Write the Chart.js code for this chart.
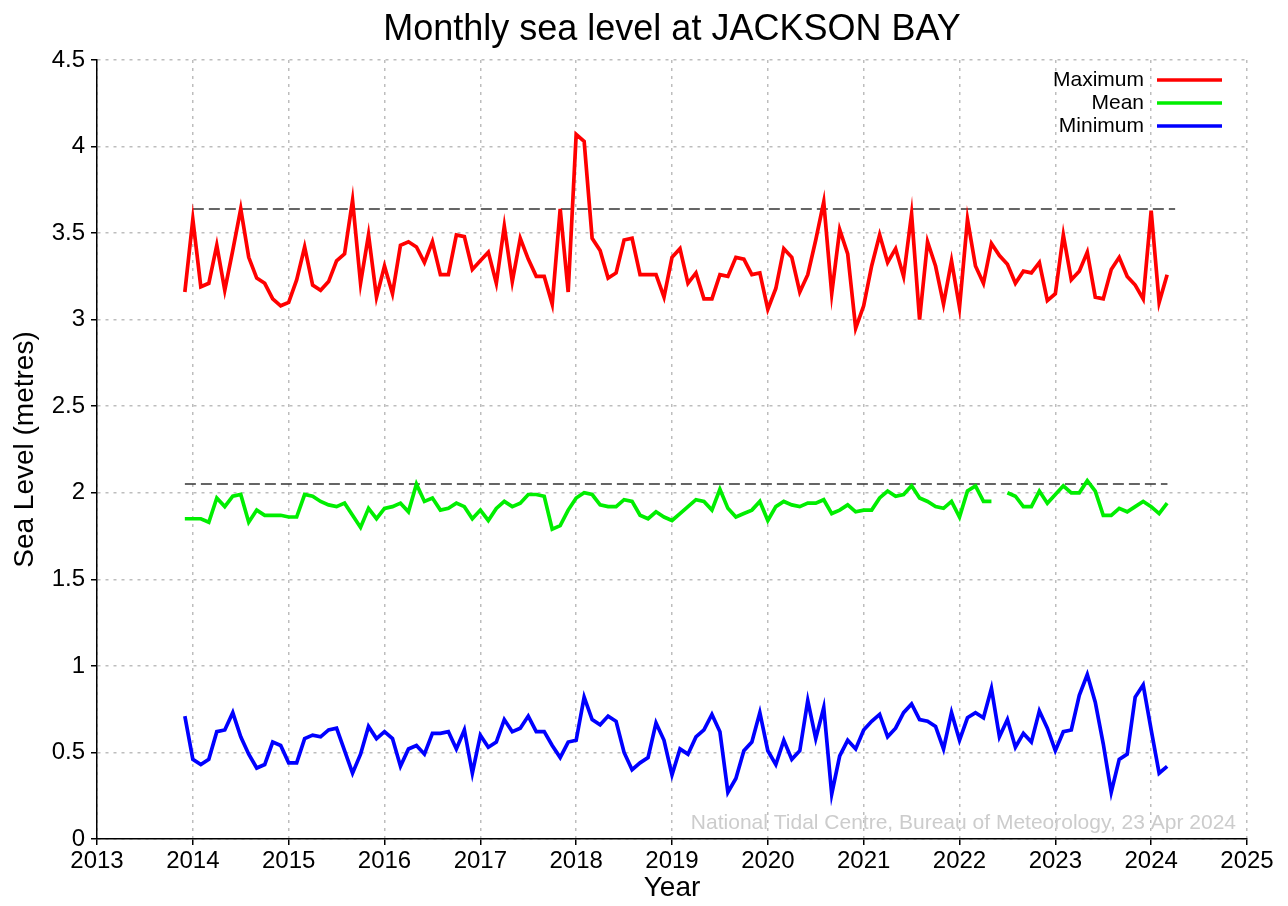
<!DOCTYPE html>
<html><head><meta charset="utf-8">
<script src="https://cdn.jsdelivr.net/npm/chart.js@4/dist/chart.umd.min.js"></script>
<style>html,body{margin:0;padding:0;background:#fff}#wrap{width:1288px;height:906px;position:relative}canvas{display:block}</style>
</head><body><div id="wrap"><canvas id="c" width="1288" height="906"></canvas></div>
<script>
// ---- data ----
const startYear = 2013, startMonth = 12; // first monthly value: Dec 2013
const maxLevel = [3.16,3.58,3.19,3.21,3.43,3.17,3.40,3.64,3.36,3.24,3.21,3.12,3.08,3.10,3.23,3.42,3.20,3.17,3.22,3.34,3.38,3.69,3.21,3.49,3.13,3.31,3.15,3.43,3.45,3.42,3.33,3.45,3.26,3.26,3.49,3.48,3.29,3.34,3.39,3.21,3.54,3.22,3.47,3.35,3.25,3.25,3.09,3.64,3.16,4.07,4.03,3.47,3.40,3.24,3.27,3.46,3.47,3.26,3.26,3.26,3.13,3.36,3.41,3.21,3.27,3.12,3.12,3.26,3.25,3.36,3.35,3.26,3.27,3.06,3.18,3.41,3.36,3.16,3.26,3.46,3.68,3.15,3.52,3.38,2.95,3.08,3.31,3.49,3.33,3.41,3.25,3.61,3.00,3.45,3.31,3.09,3.34,3.07,3.58,3.31,3.21,3.44,3.37,3.32,3.21,3.28,3.27,3.33,3.11,3.15,3.49,3.23,3.28,3.39,3.13,3.12,3.29,3.36,3.25,3.20,3.12,3.63,3.10,3.26];
const meanLevel = [1.85,1.85,1.85,1.83,1.97,1.92,1.98,1.99,1.83,1.90,1.87,1.87,1.87,1.86,1.86,1.99,1.98,1.95,1.93,1.92,1.94,1.87,1.80,1.91,1.85,1.91,1.92,1.94,1.89,2.05,1.95,1.97,1.90,1.91,1.94,1.92,1.85,1.90,1.84,1.91,1.95,1.92,1.94,1.99,1.99,1.98,1.79,1.81,1.90,1.97,2.00,1.99,1.93,1.92,1.92,1.96,1.95,1.87,1.85,1.89,1.86,1.84,1.88,1.92,1.96,1.95,1.90,2.02,1.91,1.86,1.88,1.90,1.95,1.84,1.92,1.95,1.93,1.92,1.94,1.94,1.96,1.88,1.90,1.93,1.89,1.90,1.90,1.97,2.01,1.98,1.99,2.04,1.97,1.95,1.92,1.91,1.95,1.86,2.01,2.04,1.95,1.95,null,2.00,1.98,1.92,1.92,2.01,1.94,1.99,2.04,2.00,2.00,2.07,2.01,1.87,1.87,1.91,1.89,1.92,1.95,1.92,1.88,1.94];
const minLevel = [0.71,0.46,0.43,0.46,0.62,0.63,0.73,0.59,0.49,0.41,0.43,0.56,0.54,0.44,0.44,0.58,0.60,0.59,0.63,0.64,0.51,0.38,0.49,0.65,0.58,0.62,0.58,0.42,0.52,0.54,0.49,0.61,0.61,0.62,0.52,0.63,0.38,0.60,0.53,0.56,0.69,0.62,0.64,0.71,0.62,0.62,0.54,0.47,0.56,0.57,0.82,0.69,0.66,0.71,0.68,0.50,0.40,0.44,0.47,0.67,0.57,0.37,0.52,0.49,0.59,0.63,0.72,0.62,0.27,0.35,0.51,0.56,0.73,0.51,0.43,0.57,0.46,0.51,0.80,0.58,0.76,0.26,0.48,0.57,0.52,0.63,0.68,0.72,0.59,0.64,0.73,0.78,0.69,0.68,0.65,0.52,0.73,0.57,0.70,0.73,0.70,0.87,0.59,0.69,0.53,0.61,0.56,0.74,0.64,0.51,0.62,0.63,0.83,0.95,0.79,0.55,0.27,0.46,0.49,0.82,0.89,0.63,0.38,0.42];
const seriesNames = ['Maximum', 'Mean', 'Minimum'];
const seriesColors = ['#ff0000', '#00ee00', '#0000ff'];
const xTicks = [2013,2014,2015,2016,2017,2018,2019,2020,2021,2022,2023,2024,2025];
const yTicks = [0,0.5,1,1.5,2,2.5,3,3.5,4,4.5];
const maxRef = 3.64, maxRefSpan = [2014.0, 2024.25];
const meanRef = 2.05, meanRefSpan = [2013.917, 2024.17];
const titleText = 'Monthly sea level at JACKSON BAY';
const creditText = 'National Tidal Centre, Bureau of Meteorology, 23 Apr 2024';

// ---- build ----
const monthX = maxLevel.map((_, i) => startYear + (startMonth - 1 + i) / 12);
const toPts = arr => arr.map((v, i) => ({x: monthX[i], y: v}));
const FONT = '"Liberation Sans", Arial, sans-serif';

const lineDs = (label, arr, color) => ({
  label, data: toPts(arr), borderColor: color, backgroundColor: color,
  borderWidth: 3.7, pointRadius: 0, tension: 0, spanGaps: false, fill: false
});
const refDs = (val, span) => ({
  label: 'ref', data: span.map(x => ({x, y: val})), borderColor: '#333',
  borderWidth: 1.5, borderDash: [11, 5], pointRadius: 0, fill: false
});

const overlay = {
  id: 'overlay',
  afterDraw(chart) {
    const ctx = chart.ctx;
    ctx.save();
    ctx.fillStyle = '#000';
    ctx.font = '36px ' + FONT;
    ctx.textAlign = 'center'; ctx.textBaseline = 'middle';
    ctx.fillText(titleText, 672, 30);
    // legend
    ctx.font = '21px ' + FONT;
    ctx.textAlign = 'right';
    seriesNames.forEach((n, i) => {
      const y = 80 + i * 23;
      ctx.fillStyle = '#000';
      ctx.fillText(n, 1144, y);
      ctx.strokeStyle = seriesColors[i]; ctx.lineWidth = 3.5;
      ctx.beginPath(); ctx.moveTo(1157, y); ctx.lineTo(1222, y); ctx.stroke();
    });
    ctx.fillStyle = '#cccccc';
    ctx.fillText(creditText, 1236, 823);
    ctx.restore();
  }
};

new Chart(document.getElementById('c'), {
  type: 'line',
  data: {
    datasets: [
      lineDs(seriesNames[0], maxLevel, seriesColors[0]),
      lineDs(seriesNames[1], meanLevel, seriesColors[1]),
      lineDs(seriesNames[2], minLevel, seriesColors[2]),
      refDs(maxRef, maxRefSpan),
      refDs(meanRef, meanRefSpan)
    ]
  },
  options: {
    responsive: false, animation: false, devicePixelRatio: 1,
    layout: {padding: {top: 60, right: 41, left: 0, bottom: 0}},
    plugins: {legend: {display: false}, title: {display: false}, tooltip: {enabled: false}},
    scales: {
      x: {
        type: 'linear', min: 2013, max: 2025,
        afterBuildTicks: s => { s.ticks = xTicks.map(v => ({value: v})); },
        afterFit: s => { s.height = 67; },
        ticks: {color: '#000', font: {family: FONT, size: 24}, padding: 2, maxRotation: 0, autoSkip: false, callback: v => String(v)},
        grid: {color: '#bdbdbd', lineWidth: 1.5, tickLength: 6, tickColor: '#000', tickWidth: 1.5},
        border: {color: '#000', width: 1.5, dash: [3, 5]},
        title: {display: true, text: 'Year', color: '#000', font: {family: FONT, size: 28}, padding: {top: 0, bottom: 1}}
      },
      y: {
        type: 'linear', min: 0, max: 4.5,
        afterBuildTicks: s => { s.ticks = yTicks.map(v => ({value: v})); },
        afterFit: s => { s.width = 97; },
        ticks: {color: '#000', font: {family: FONT, size: 24}, padding: 6, callback: v => String(v)},
        grid: {color: '#bdbdbd', lineWidth: 1.5, tickLength: 6, tickColor: '#000', tickWidth: 1.5},
        border: {color: '#000', width: 1.5, dash: [3, 5]},
        title: {display: true, text: 'Sea Level (metres)', color: '#000', font: {family: FONT, size: 28}, padding: {top: 8, bottom: 0}}
      }
    }
  },
  plugins: [overlay]
});
</script></body></html>
